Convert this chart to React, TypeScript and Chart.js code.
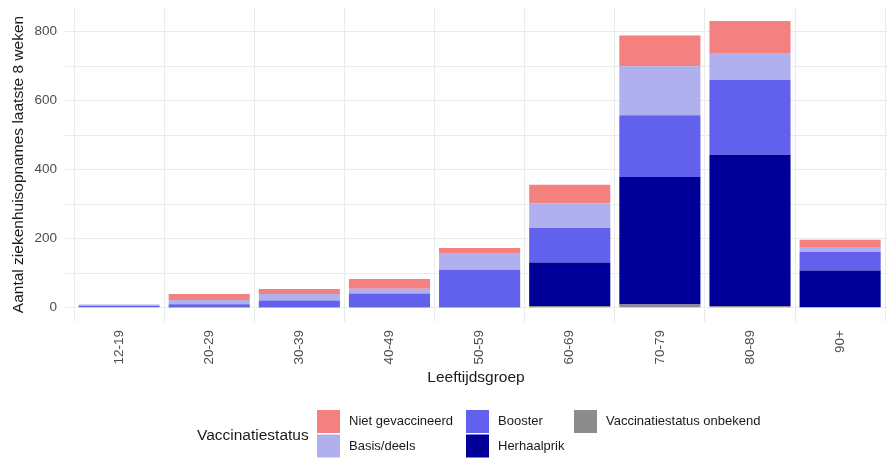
import React, { useEffect, useRef } from "react";
import { Chart, registerables } from "chart.js";

Chart.register(...registerables);

const categories = ["12-19", "20-29", "30-39", "40-49", "50-59", "60-69", "70-79", "80-89", "90+"];
const onbekend = [0, 0, 0, 0, 0, 5, 9, 5, 0];
const herhaalprik = [0, 3, 2, 3, 3, 126, 370, 438, 108];
const booster = [5, 7, 19, 38, 107, 100, 179, 217, 54];
const basisDeels = [4, 12, 19, 14, 46, 72, 142, 78, 14];
const nietGevaccineerd = [0, 18, 14, 28, 17, 53, 89, 93, 21];

const seriesNames = ["Vaccinatiestatus onbekend", "Herhaalprik", "Booster", "Basis/deels", "Niet gevaccineerd"];
const seriesColors = ["#8C8C8C", "#000099", "#6161EE", "#B0B0EE", "#F48080"];
const seriesValues = [onbekend, herhaalprik, booster, basisDeels, nietGevaccineerd];

const yTitle = "Aantal ziekenhuisopnames laatste 8 weken";
const xTitle = "Leeftijdsgroep";
const legendTitle = "Vaccinatiestatus";

const FONT = '"Liberation Sans", Arial, sans-serif';

// legend layout: columns of items (by column, two rows)
const legendOrder = ["Niet gevaccineerd", "Basis/deels", "Booster", "Herhaalprik", "Vaccinatiestatus onbekend"];
const legendColX = [317, 466, 574];
const legendRowY = [410, 434.5];
const legendKey = 23;

const legendPlugin = {
  id: "ggLegend",
  afterDraw(chart: any) {
    const ctx = chart.ctx;
    ctx.save();
    ctx.textBaseline = "middle";
    ctx.textAlign = "left";
    ctx.fillStyle = "#1A1A1A";
    ctx.font = `15.5px ${FONT}`;
    ctx.fillText(legendTitle, 197, 436);
    ctx.font = `13px ${FONT}`;
    legendOrder.forEach((name, i) => {
      const col = Math.floor(i / 2);
      const row = i % 2;
      const idx = seriesNames.indexOf(name);
      const x = legendColX[col];
      const y = legendRowY[row];
      ctx.fillStyle = seriesColors[idx];
      ctx.fillRect(x, y, legendKey, legendKey);
      ctx.fillStyle = "#1A1A1A";
      ctx.fillText(name, x + 32, y + legendKey / 2);
    });
    ctx.restore();
  },
};

export default function App() {
  const ref = useRef<HTMLCanvasElement>(null);
  useEffect(() => {
    const canvas = ref.current!;
    const chart = new Chart(canvas, {
      type: "bar",
      data: {
        datasets: seriesNames.map((name, s) => ({
          label: name,
          data: seriesValues[s].map((v, i) => ({ x: i + 1, y: v })),
          backgroundColor: seriesColors[s],
          borderWidth: 0,
          barPercentage: 1,
          categoryPercentage: 0.9,
        })),
      },
      options: {
        animation: false,
        responsive: false,
        maintainAspectRatio: false,
        layout: { padding: { top: 7, bottom: 59, left: 0, right: 0 } },
        plugins: { legend: { display: false }, tooltip: { enabled: false } },
        scales: {
          x: {
            type: "linear",
            stacked: true,
            min: 0.4,
            max: 9.52,
            offset: false,
            grid: { color: "#EBEBEB", lineWidth: 1, drawTicks: false },
            border: { display: false },
            ticks: {
              stepSize: 1,
              includeBounds: false,
              autoSkip: false,
              minRotation: 90,
              maxRotation: 90,
              padding: 8,
              color: "#4D4D4D",
              font: { family: FONT, size: 13.5 },
              callback: (v: any) => {
                const i = Math.round(Number(v)) - 1;
                return Number.isInteger(Number(v)) && categories[i] ? categories[i] : "";
              },
            },
            title: {
              display: true,
              text: xTitle,
              color: "#1A1A1A",
              font: { family: FONT, size: 15.5 },
              padding: { top: 0, bottom: 13 },
            },
            afterFit: (scale: any) => {
              scale.height = 78;
              scale.paddingLeft = 0;
              scale.paddingRight = 0;
            },
          },
          y: {
            type: "linear",
            stacked: true,
            min: -41.5,
            max: 871.5,
            grid: { color: "#EBEBEB", lineWidth: 1, drawTicks: false },
            border: { display: false },
            ticks: {
              stepSize: 100,
              includeBounds: false,
              padding: 8,
              color: "#4D4D4D",
              font: { family: FONT, size: 13.5 },
              callback: (v: any) => (Number(v) % 200 === 0 ? String(v) : ""),
            },
            title: {
              display: true,
              text: yTitle,
              color: "#1A1A1A",
              font: { family: FONT, size: 15.5 },
              padding: { top: 9, bottom: 0 },
            },
            afterFit: (scale: any) => {
              scale.width = 65;
              scale.paddingTop = 0;
              scale.paddingBottom = 0;
            },
          },
        },
      },
      plugins: [legendPlugin],
    } as any);
    return () => chart.destroy();
  }, []);
  return (
    <div style={{ position: "fixed", left: 0, top: 0, width: 887, height: 459, background: "#fff" }}>
      <canvas ref={ref} width={887} height={459} style={{ display: "block", width: 887, height: 459 }} />
    </div>
  );
}
